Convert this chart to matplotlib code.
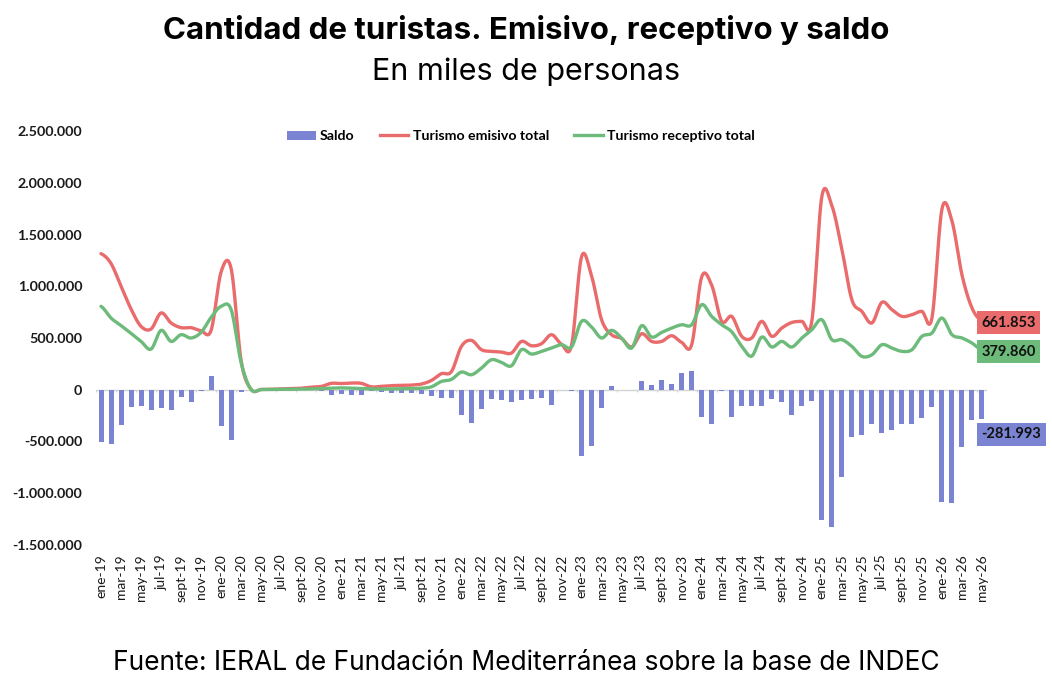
import numpy as np
import matplotlib
matplotlib.use("Agg")
import matplotlib.pyplot as plt
from matplotlib.ticker import FuncFormatter
from matplotlib.patches import Patch
from matplotlib.lines import Line2D

# ---------------- data (thousands of persons) ----------------
years = ["19", "20", "21", "22", "23", "24", "25", "26"]
month_abbr = ["ene", "feb", "mar", "abr", "may", "jun", "jul", "ago", "sept", "oct", "nov", "dic"]
n_months = 89  # ene-19 .. may-26

emisivo = [
    1315, 1220, 1000, 780, 612, 587, 742, 645, 600, 600, 570, 575,      # 2019
    1140, 1170, 280, 3, 3, 5, 8, 10, 15, 25, 32, 62,                     # 2020
    60, 65, 62, 28, 33, 40, 42, 45, 55, 90, 155, 175,                    # 2021
    419, 477, 387, 371, 364, 355, 467, 425, 445, 532, 440, 430,          # 2022
    1285, 1100, 677, 532, 495, 413, 541, 467, 467, 522, 458, 435,        # 2023
    1090, 1010, 661, 709, 516, 500, 661, 516, 596, 650, 661, 661,        # 2024
    1865, 1780, 1360, 870, 757, 645, 845, 774, 709, 725, 757, 693,       # 2025
    1745, 1630, 1110, 790, 661.853,                                      # 2026
]
receptivo = [
    806, 693, 620, 545, 467, 393, 574, 467, 532, 500, 555, 700,          # 2019
    806, 774, 260, 2, 2, 3, 4, 5, 6, 8, 12, 15,                          # 2020
    18, 15, 12, 8, 7, 8, 9, 10, 15, 28, 80, 100,                         # 2021
    171, 145, 209, 290, 264, 232, 387, 345, 371, 403, 435, 413,          # 2022
    661, 606, 500, 574, 500, 403, 619, 509, 554, 596, 628, 628,          # 2023
    822, 709, 628, 560, 420, 325, 509, 413, 467, 413, 500, 580,          # 2024
    677, 484, 484, 419, 322, 338, 435, 403, 371, 387, 516, 548,          # 2025
    693, 532, 500, 451, 379.860,                                         # 2026
]
saldo = [
    -505, -525, -345, -171, -155, -197, -178, -191, -71, -116, -10, 135,       # 2019
    -354, -483, -25, 0, 0, 0, 0, 0, 0, -3, -16, -48,                           # 2020
    -42, -48, -48, -16, -26, -32, -32, -32, -39, -64, -80, -80,                # 2021
    -242, -322, -184, -87, -97, -116, -97, -90, -84, -145, -5, -10,            # 2022
    -638, -541, -177, 40, 0, 0, 80, 45, 97, 60, 161, 177,                      # 2023
    -268, -332, -15, -268, -155, -161, -155, -90, -119, -242, -155, -113,      # 2024
    -1257, -1328, -845, -461, -435, -329, -419, -393, -332, -332, -274, -171,  # 2025
    -1080, -1096, -554, -297, -281.993,                                        # 2026
]

labels_all = [f"{m}-{y}" for y in years for m in month_abbr][:n_months]

# ---------------- styling ----------------
C_BAR = "#7B84D2"
C_RED = "#E96B6B"
C_GREEN = "#6DBB7B"
TXT = "#1a1a1a"
AXFONT = ["Lato", "DejaVu Sans"]
TITLEFONT = ["Inter", "DejaVu Sans"]


def catmull_rom(y, steps=24):
    y = np.asarray(y, dtype=float)
    p = np.concatenate([[y[0]], y, [y[-1]]])
    xs, ys = [], []
    t = np.linspace(0, 1, steps, endpoint=False)
    for i in range(len(y) - 1):
        p0, p1, p2, p3 = p[i], p[i + 1], p[i + 2], p[i + 3]
        seg = 0.5 * (2 * p1 + (-p0 + p2) * t + (2 * p0 - 5 * p1 + 4 * p2 - p3) * t ** 2
                     + (-p0 + 3 * p1 - 3 * p2 + p3) * t ** 3)
        xs.append(i + t)
        ys.append(seg)
    xs.append([len(y) - 1])
    ys.append([y[-1]])
    return np.concatenate(xs), np.concatenate(ys)


fig = plt.figure(figsize=(10.52, 6.96), dpi=100)
ax = fig.add_axes([96 / 1052, 1 - 545 / 696, (987 - 96) / 1052, (545 - 131) / 696])

x = np.arange(n_months)
emi = np.array(emisivo) * 1000
rec = np.array(receptivo) * 1000
sal = np.array(saldo) * 1000

ax.bar(x, sal, width=0.5, color=C_BAR, zorder=2)
ax.axhline(0, color="#d4d4d4", lw=1.0, zorder=1)
ax.vlines(np.arange(-0.5, n_months, 2), -22000, 0, color="#d4d4d4", lw=0.8, zorder=1)

xs, ys = catmull_rom(emi)
ax.plot(xs, ys, color=C_RED, lw=2.4, solid_capstyle="round", zorder=3)
xs, ys = catmull_rom(rec)
ax.plot(xs, ys, color=C_GREEN, lw=2.4, solid_capstyle="round", zorder=3)

ax.set_xlim(-0.5, n_months - 0.5)
ax.set_ylim(-1_500_000, 2_500_000)
ax.set_yticks(np.arange(-1_500_000, 2_500_001, 500_000))
ax.yaxis.set_major_formatter(FuncFormatter(lambda v, p: f"{int(v):,}".replace(",", ".")))
ax.set_xticks(x[::2])
ax.set_xticklabels(labels_all[::2], rotation=90, fontsize=10, family=AXFONT, color=TXT)
for lab in ax.get_yticklabels():
    lab.set_fontfamily(AXFONT)
    lab.set_fontweight("bold")
    lab.set_fontsize(10.3)
    lab.set_color(TXT)
ax.tick_params(axis="both", length=0)
ax.tick_params(axis="y", pad=10)
ax.tick_params(axis="x", pad=7)
for s in ax.spines.values():
    s.set_visible(False)


def value_label(val, yoff, color):
    txt = f"{val:.3f}"
    ax.annotate(txt, xy=(n_months - 1, val * 1000), xytext=(-0.5, yoff), textcoords="offset points",
                ha="left", va="center", fontsize=10.5, fontweight="bold", family=AXFONT, color="#111111",
                bbox=dict(boxstyle="square,pad=0.3", fc=color, ec="none"), zorder=5,
                annotation_clip=False)


value_label(emisivo[-1], -1, C_RED)
value_label(receptivo[-1], -1, C_GREEN)
value_label(saldo[-1], -11, C_BAR)

handles = [Patch(facecolor=C_BAR, edgecolor="none"),
           Line2D([], [], color=C_RED, lw=2.4),
           Line2D([], [], color=C_GREEN, lw=2.4)]
fig.legend(handles, ["Saldo", "Turismo emisivo total", "Turismo receptivo total"],
           loc="center", bbox_to_anchor=(521 / 1052, 1 - 136 / 696), ncol=3, frameon=False,
           prop={"family": AXFONT, "weight": "bold", "size": 10.2}, handlelength=2.0,
           handleheight=0.6, columnspacing=1.8, handletextpad=0.3)

fig.text(0.5, 1 - 30 / 696, "Cantidad de turistas. Emisivo, receptivo y saldo", ha="center", va="center",
         fontsize=22.5, fontweight="bold", family=TITLEFONT, color="#000000")
fig.text(0.5, 1 - 72 / 696, "En miles de personas", ha="center", va="center",
         fontsize=22, family=TITLEFONT, color="#000000")
fig.text(0.5, 1 - 663 / 696, "Fuente: IERAL de Fundación Mediterránea sobre la base de INDEC",
         ha="center", va="center", fontsize=19, family=TITLEFONT, color="#000000")

fig.savefig("out.png", dpi=100, facecolor="white")
